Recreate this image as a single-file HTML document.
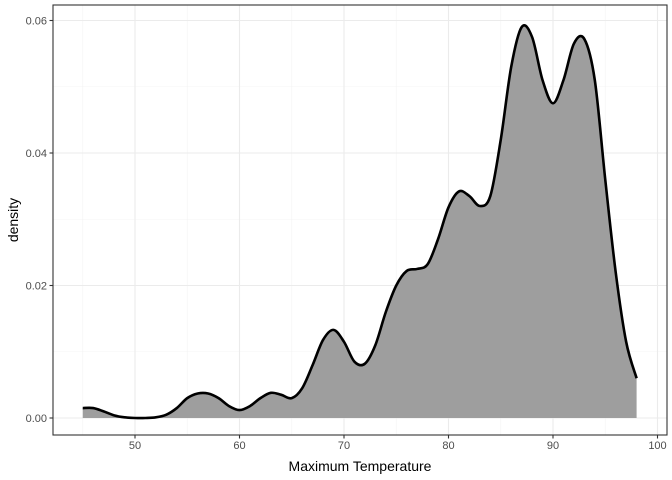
<!DOCTYPE html>
<html><head><meta charset="utf-8"><style>
body{margin:0;background:#fff}
svg{display:block;font-family:"Liberation Sans",sans-serif}
</style></head><body>
<svg id="chart" width="672" height="480"></svg>
<script>
const xValues=[45,46,47,48,49,50,51,52,53,54,55,56,57,58,59,60,61,62,63,64,65,66,67,68,69,70,71,72,73,74,75,76,77,78,79,80,81,82,83,84,85,86,87,88,89,90,91,92,93,94,95,96,97,98];
const densityValues=[0.0015,0.0015,0.001,0.0004,0.0001,0.0,0.0,0.0001,0.0005,0.0015,0.003,0.0037,0.0037,0.003,0.0018,0.0012,0.0018,0.003,0.0038,0.0035,0.003,0.0045,0.008,0.0118,0.0133,0.0115,0.0085,0.0082,0.011,0.016,0.02,0.0222,0.0225,0.0232,0.027,0.0318,0.0342,0.0335,0.032,0.0335,0.042,0.053,0.059,0.0575,0.051,0.0475,0.051,0.0565,0.0572,0.051,0.036,0.022,0.0115,0.006];
const xTicks=[50,60,70,80,90,100];
const yTicks=[0,0.02,0.04,0.06];
const yTickLabels=["0.00","0.02","0.04","0.06"];
const xMinor=[45,55,65,75,85,95];
const yMinor=[0.01,0.03,0.05];

const NS="http://www.w3.org/2000/svg";
const svg=document.getElementById('chart');
const L=53,R=667,T=5,B=435;
const sx=v=>135+(v-50)*10.45;
const sy=v=>418-v*6625;
function mk(tag,attrs,parent){const e=document.createElementNS(NS,tag);for(const k in attrs)e.setAttribute(k,attrs[k]);(parent||svg).appendChild(e);return e;}

const bg=mk('rect',{x:L,y:T,width:R-L,height:B-T,fill:'#fff'});


xMinor.forEach(v=>{const l=mk('line',{x1:sx(v),x2:sx(v),y1:T,y2:B,stroke:'#f4f4f4','stroke-width':0.6});

});
yMinor.forEach(v=>{const l=mk('line',{x1:L,x2:R,y1:sy(v),y2:sy(v),stroke:'#f4f4f4','stroke-width':0.6});

});
xTicks.forEach(v=>{const l=mk('line',{x1:sx(v),x2:sx(v),y1:T,y2:B,stroke:'#ebebeb','stroke-width':1.1});

});
yTicks.forEach(v=>{const l=mk('line',{x1:L,x2:R,y1:sy(v),y2:sy(v),stroke:'#ebebeb','stroke-width':1.1});

});

const pts=xValues.map((x,i)=>[sx(x),sy(densityValues[i])]);
let d=`M${pts[0][0]},${pts[0][1]}`;
for(let i=0;i<pts.length-1;i++){
  const p0=pts[Math.max(i-1,0)],p1=pts[i],p2=pts[i+1],p3=pts[Math.min(i+2,pts.length-1)];
  const c1=[p1[0]+(p2[0]-p0[0])/6,p1[1]+(p2[1]-p0[1])/6];
  const c2=[p2[0]-(p3[0]-p1[0])/6,p2[1]-(p3[1]-p1[1])/6];
  d+=`C${c1[0]},${c1[1]} ${c2[0]},${c2[1]} ${p2[0]},${p2[1]}`;
}
const area=mk('path',{d:d+`L${pts[pts.length-1][0]},${sy(0)}L${pts[0][0]},${sy(0)}Z`,fill:'#9e9e9e'});


const line=mk('path',{d:d,fill:'none',stroke:'#000','stroke-width':2.6,'stroke-linejoin':'round'});



const border=mk('rect',{x:L,y:T,width:R-L,height:B-T,fill:'none',stroke:'#333','stroke-width':1.1});



xTicks.forEach(v=>{
  const t=mk('line',{x1:sx(v),x2:sx(v),y1:B,y2:B+3.5,stroke:'#333','stroke-width':1.1});
  
  
  const tx=mk('text',{x:sx(v),y:B+14,'text-anchor':'middle','font-size':11,fill:'#4d4d4d'});
  tx.textContent=v;
  
  
});
yTicks.forEach((v,i)=>{
  const t=mk('line',{x1:L-3.5,x2:L,y1:sy(v),y2:sy(v),stroke:'#333','stroke-width':1.1});
  
  
  const tx=mk('text',{x:L-6,y:sy(v)+4,'text-anchor':'end','font-size':11,fill:'#4d4d4d'});
  tx.textContent=yTickLabels[i];
  
  
});
const xt=mk('text',{x:(L+R)/2,y:471,'text-anchor':'middle','font-size':14,fill:'#000'});
xt.textContent='Maximum Temperature';


const yt=mk('text',{x:0,y:0,'text-anchor':'middle','font-size':14,fill:'#000',transform:`translate(18,${(T+B)/2}) rotate(-90)`});
yt.textContent='density';


</script>
</body></html>
